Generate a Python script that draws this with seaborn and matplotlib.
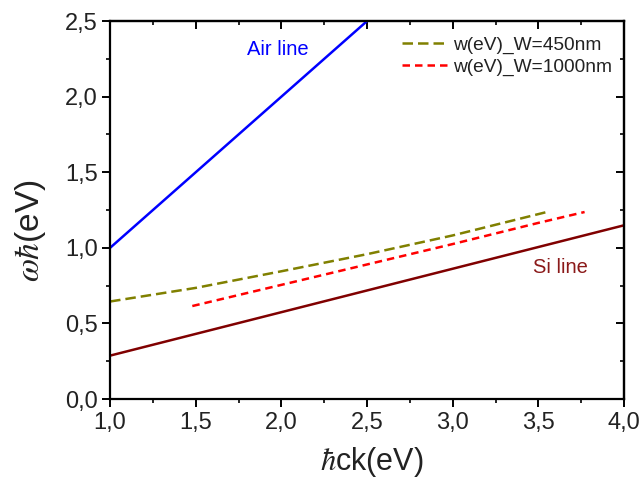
import matplotlib
matplotlib.use("Agg")
import matplotlib.pyplot as plt
import seaborn as sns
import pandas as pd
from matplotlib.ticker import MultipleLocator, FuncFormatter

sns.set_theme(style="white")
plt.rcParams['font.family'] = ['Liberation Sans', 'DejaVu Sans']
plt.rcParams['mathtext.fontset'] = 'stix'

# Data
air_x = [1.0, 2.5]
air_y = [1.0, 2.5]
si_x = [1.0, 4.0]
si_y = [0.287, 1.149]
w450_x = [1.0, 1.5, 2.0, 2.5, 3.0, 3.56]
w450_y = [0.645, 0.735, 0.845, 0.958, 1.082, 1.24]
w1000_x = [1.48, 2.0, 2.5, 3.0, 3.5, 3.77]
w1000_y = [0.615, 0.755, 0.89, 1.025, 1.165, 1.237]

fig = plt.figure(figsize=(6.4, 4.79), dpi=100)
ax = fig.add_axes([0.172, 0.167, 0.803, 0.789])

sns.lineplot(x=air_x, y=air_y, ax=ax, color='#0000ff', linewidth=1.8)
sns.lineplot(x=si_x, y=si_y, ax=ax, color='#800000', linewidth=1.8)
sns.lineplot(x=w450_x, y=w450_y, ax=ax, color='#808000', linewidth=1.8,
             dashes=False, label='w(eV)_W=450nm', linestyle=(0, (4.2, 2.0)))
sns.lineplot(x=w1000_x, y=w1000_y, ax=ax, color='#ff0000', linewidth=1.8,
             dashes=False, label='w(eV)_W=1000nm', linestyle=(0, (3.0, 2.0)))

ax.set_xlim(1.0, 4.0)
ax.set_ylim(0.0, 2.5)
ax.xaxis.set_major_locator(MultipleLocator(0.5))
ax.xaxis.set_minor_locator(MultipleLocator(0.25))
ax.yaxis.set_major_locator(MultipleLocator(0.5))
ax.yaxis.set_minor_locator(MultipleLocator(0.25))
fmt = FuncFormatter(lambda v, p: f"{v:.1f}".replace('.', ','))
ax.xaxis.set_major_formatter(fmt)
ax.yaxis.set_major_formatter(fmt)

for s in ax.spines.values():
    s.set_color('black')
    s.set_linewidth(1.6)

ax.tick_params(which='major', direction='out', length=6, width=1.4, labelsize=17,
               colors='black', bottom=True, left=True, top=False, right=False, pad=3)
ax.tick_params(which='minor', direction='out', length=3, width=1.2,
               bottom=True, left=True, top=False, right=False, colors='black')
for lab in ax.get_xticklabels() + ax.get_yticklabels():
    lab.set_color('#222222')

# mirror ticks inward on top/right
axt = ax.secondary_xaxis('top')
axt.xaxis.set_major_locator(MultipleLocator(0.5))
axt.xaxis.set_minor_locator(MultipleLocator(0.25))
axt.tick_params(which='major', direction='in', length=6, width=1.4, labeltop=False, colors='black')
axt.tick_params(which='minor', direction='in', length=3, width=1.2, colors='black')
axt.spines['top'].set_linewidth(1.6)
axr = ax.secondary_yaxis('right')
axr.yaxis.set_major_locator(MultipleLocator(0.5))
axr.yaxis.set_minor_locator(MultipleLocator(0.25))
axr.tick_params(which='major', direction='in', length=6, width=1.4, labelright=False, colors='black')
axr.tick_params(which='minor', direction='in', length=3, width=1.2, colors='black')
axr.spines['right'].set_linewidth(1.6)

ax.set_xlabel(r'$\hbar$ck(eV)', fontsize=22, color='#222222')
ax.set_ylabel(r'$\omega\hbar$(eV)', fontsize=24, color='#222222')
ax.xaxis.set_label_coords(0.51, -0.122)
ax.yaxis.set_label_coords(-0.12, 0.445)

ax.text(1.8, 2.31, 'Air line', color='#0000ff', fontsize=14.5, va='center')
ax.text(3.47, 0.87, 'Si line', color='#8b1a1a', fontsize=14.5, va='center')

leg = ax.legend(loc='upper right', bbox_to_anchor=(1.0, 0.99), frameon=False,
                fontsize=13.8, handlelength=2.4, handletextpad=0.3, labelspacing=0.25,
                borderaxespad=0.2)
for t in leg.get_texts():
    t.set_color('#222222')

fig.savefig('out.png', dpi=100)
